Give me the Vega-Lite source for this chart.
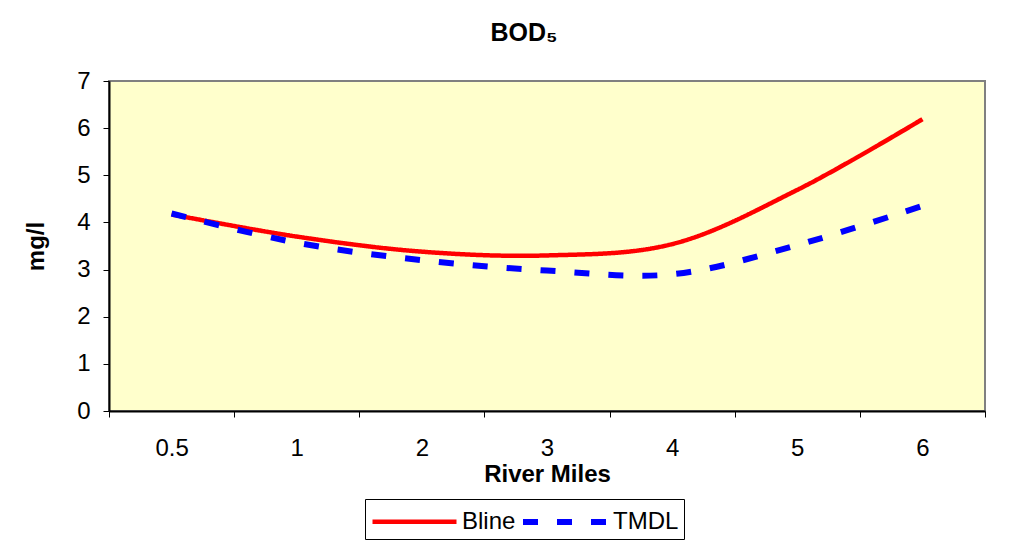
{
  "$schema": "https://vega.github.io/schema/vega-lite/v6.json",
  "width": 876,
  "height": 330,
  "autosize": {"type": "none"},
  "padding": {"left": 109, "top": 81, "right": 46, "bottom": 135},
  "background": "white",
  "title": {
    "text": "BOD₅",
    "font": "Liberation Sans",
    "fontSize": 25,
    "fontWeight": "bold",
    "color": "black",
    "anchor": "middle",
    "dx": -23,
    "offset": 23
  },
  "config": {
    "font": "Liberation Sans",
    "view": {"fill": "#FFFFCC", "stroke": "#808080", "strokeWidth": 2}
  },
  "data": {
    "values": [
      {"mile": "0.5", "series": "Bline", "value": 4.17},
      {"mile": "1", "series": "Bline", "value": 3.7},
      {"mile": "2", "series": "Bline", "value": 3.38},
      {"mile": "3", "series": "Bline", "value": 3.3},
      {"mile": "4", "series": "Bline", "value": 3.54},
      {"mile": "5", "series": "Bline", "value": 4.69},
      {"mile": "6", "series": "Bline", "value": 6.19},
      {"mile": "0.5", "series": "TMDL", "value": 4.19},
      {"mile": "1", "series": "TMDL", "value": 3.57},
      {"mile": "2", "series": "TMDL", "value": 3.2},
      {"mile": "3", "series": "TMDL", "value": 2.98},
      {"mile": "4", "series": "TMDL", "value": 2.9},
      {"mile": "5", "series": "TMDL", "value": 3.52},
      {"mile": "6", "series": "TMDL", "value": 4.35}
    ]
  },
  "mark": {"type": "line", "interpolate": "catmull-rom", "strokeCap": "butt"},
  "encoding": {
    "x": {
      "field": "mile",
      "type": "ordinal",
      "sort": null,
      "bandPosition": 0.5,
      "scale": {"type": "band", "paddingInner": 0, "paddingOuter": 0},
      "axis": {
        "title": "River Miles",
        "titleFontSize": 24,
        "titleFontWeight": "bold",
        "titleColor": "black",
        "titlePadding": 2,
        "labelAngle": 0,
        "labelFontSize": 24,
        "labelColor": "black",
        "labelPadding": 19,
        "tickBand": "extent",
        "tickSize": 6,
        "tickColor": "black",
        "domainColor": "black",
        "domainWidth": 2,
        "grid": false
      }
    },
    "y": {
      "field": "value",
      "type": "quantitative",
      "scale": {"domain": [0, 7]},
      "axis": {
        "title": "mg/l",
        "titleFontSize": 24,
        "titleFontWeight": "bold",
        "titleColor": "black",
        "titlePadding": 28,
        "values": [0, 1, 2, 3, 4, 5, 6, 7],
        "labelFontSize": 24,
        "labelColor": "black",
        "labelPadding": 13,
        "tickSize": 6,
        "tickColor": "black",
        "domainColor": "black",
        "domainWidth": 2,
        "grid": false
      }
    },
    "color": {
      "field": "series",
      "type": "nominal",
      "scale": {"domain": ["Bline", "TMDL"], "range": ["#FF0000", "#0000FF"]},
      "legend": {
        "title": null,
        "orient": "none",
        "legendX": 256,
        "legendY": 418,
        "direction": "horizontal",
        "fillColor": "white",
        "strokeColor": "black",
        "padding": 5,
        "symbolType": "M-2.8,0H2.8",
        "symbolSize": 900,
        "symbolOffset": 27,
        "labelOffset": 30,
        "labelFontSize": 24,
        "labelColor": "black",
        "columnPadding": -5
      }
    },
    "strokeDash": {
      "field": "series",
      "type": "nominal",
      "scale": {"domain": ["Bline", "TMDL"], "range": [[1, 0], [15, 19]]}
    },
    "strokeWidth": {
      "field": "series",
      "type": "nominal",
      "scale": {"domain": ["Bline", "TMDL"], "range": [4.5, 6]}
    }
  }
}
